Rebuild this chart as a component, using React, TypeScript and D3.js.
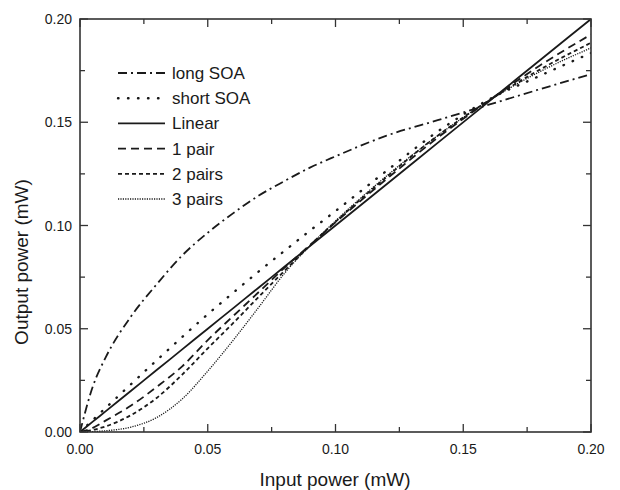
import React from "react";
import * as d3 from "d3";

const inputPower = [0, 0.005, 0.01, 0.02, 0.03, 0.04, 0.05, 0.06, 0.07, 0.08, 0.09, 0.1, 0.12, 0.14, 0.16, 0.18, 0.2];
const longSOA = [0, 0.022, 0.036, 0.056, 0.0715, 0.0855, 0.0965, 0.106, 0.1145, 0.1215, 0.128, 0.1335, 0.1435, 0.151, 0.1585, 0.166, 0.1733];
const shortSOA = [0, 0.0058, 0.0116, 0.0232, 0.0347, 0.046, 0.057, 0.0675, 0.0778, 0.0877, 0.0975, 0.107, 0.1265, 0.1455, 0.161, 0.1725, 0.1835];
const linear = [0, 0.005, 0.01, 0.02, 0.03, 0.04, 0.05, 0.06, 0.07, 0.08, 0.09, 0.1, 0.12, 0.14, 0.16, 0.18, 0.2];
const onePair = [0, 0.002, 0.0055, 0.0128, 0.0218, 0.0318, 0.0445, 0.0562, 0.0678, 0.0795, 0.0905, 0.1015, 0.1225, 0.1425, 0.1605, 0.1775, 0.1925];
const twoPairs = [0, 0.001, 0.0027, 0.0082, 0.0165, 0.0278, 0.0405, 0.0528, 0.0655, 0.078, 0.0903, 0.1018, 0.1235, 0.1435, 0.1605, 0.1755, 0.1885];
const threePairs = [0, 0.0002, 0.0006, 0.0024, 0.007, 0.016, 0.0295, 0.0445, 0.0605, 0.0768, 0.0902, 0.1022, 0.124, 0.1435, 0.1605, 0.1745, 0.186];

const seriesNames = ["long SOA", "short SOA", "Linear", "1 pair", "2 pairs", "3 pairs"];
const seriesValues = [longSOA, shortSOA, linear, onePair, twoPairs, threePairs];
const majorTicks = [0, 0.05, 0.1, 0.15, 0.2];
const minorTicks = [0.025, 0.075, 0.125, 0.175];

const styles = [
  { dash: "9,4,2,4", width: 1.8, cap: "butt" },
  { dash: "0.5,9.5", width: 2.4, cap: "round" },
  { dash: "", width: 1.8, cap: "butt" },
  { dash: "8,5", width: 1.8, cap: "butt" },
  { dash: "4,3", width: 1.8, cap: "butt" },
  { dash: "1.2,1.2", width: 1.3, cap: "butt" },
];

const W = 620, H = 490;
const L = 80, R = 591, T = 19, B = 432;
const font = "'Liberation Sans', Arial, sans-serif";
const ink = "#1a1a1a";

export default function App() {
  const x = d3.scaleLinear().domain([0, 0.2]).range([L, R]);
  const y = d3.scaleLinear().domain([0, 0.2]).range([B, T]);
  const line = d3
    .line<number>()
    .x((_, i) => x(inputPower[i]))
    .y((d) => y(d))
    .curve(d3.curveMonotoneX);

  const fmt = d3.format(".2f");
  const legendY0 = 73;
  const legendStep = 25.2;

  return (
    <svg width={W} height={H} style={{ position: "absolute", left: 0, top: 0, background: "#fff" }}>
      <rect width={W} height={H} fill="#fff" />
      <defs>
        <clipPath id="plot">
          <rect x={L} y={T} width={R - L} height={B - T} />
        </clipPath>
      </defs>
      <g clipPath="url(#plot)">
        {seriesValues.map((vals, i) => (
          <path
            key={i}
            d={line(vals) || ""}
            fill="none"
            stroke={ink}
            strokeWidth={styles[i].width}
            strokeDasharray={styles[i].dash}
            strokeLinecap={styles[i].cap as any}
          />
        ))}
      </g>
      {majorTicks.concat(minorTicks).map((t, i) => {
        const len = majorTicks.includes(t) ? 8 : 5;
        return (
          <g key={i} stroke="#333" strokeWidth={1.3}>
            <line x1={x(t)} x2={x(t)} y1={B} y2={B - len} />
            <line x1={x(t)} x2={x(t)} y1={T} y2={T + len} />
            <line x1={L} x2={L + len} y1={y(t)} y2={y(t)} />
            <line x1={R} x2={R - len} y1={y(t)} y2={y(t)} />
          </g>
        );
      })}
      <rect x={L} y={T} width={R - L} height={B - T} fill="none" stroke="#333" strokeWidth={1.6} />
      {majorTicks.map((t, i) => (
        <text key={"xl" + i} x={x(t)} y={454} fontSize={14} fontFamily={font} textAnchor="middle" fill={ink}>
          {fmt(t)}
        </text>
      ))}
      {majorTicks.map((t, i) => (
        <text key={"yl" + i} x={72} y={y(t) + 5} fontSize={14} fontFamily={font} textAnchor="end" fill={ink}>
          {fmt(t)}
        </text>
      ))}
      <text x={335} y={486} fontSize={19} fontFamily={font} textAnchor="middle" fill={ink}>
        Input power (mW)
      </text>
      <text
        x={0}
        y={0}
        transform={`translate(28,262) rotate(-90)`}
        fontSize={19}
        fontFamily={font}
        textAnchor="middle"
        fill={ink}
      >
        Output power (mW)
      </text>
      {seriesNames.map((n, i) => {
        const yy = legendY0 + i * legendStep;
        return (
          <g key={"lg" + i}>
            <line
              x1={118}
              x2={165}
              y1={yy}
              y2={yy}
              stroke={ink}
              strokeWidth={styles[i].width}
              strokeDasharray={styles[i].dash}
              strokeLinecap={styles[i].cap as any}
            />
            <text x={172} y={yy + 6} fontSize={17} fontFamily={font} fill={ink}>
              {n}
            </text>
          </g>
        );
      })}
    </svg>
  );
}
